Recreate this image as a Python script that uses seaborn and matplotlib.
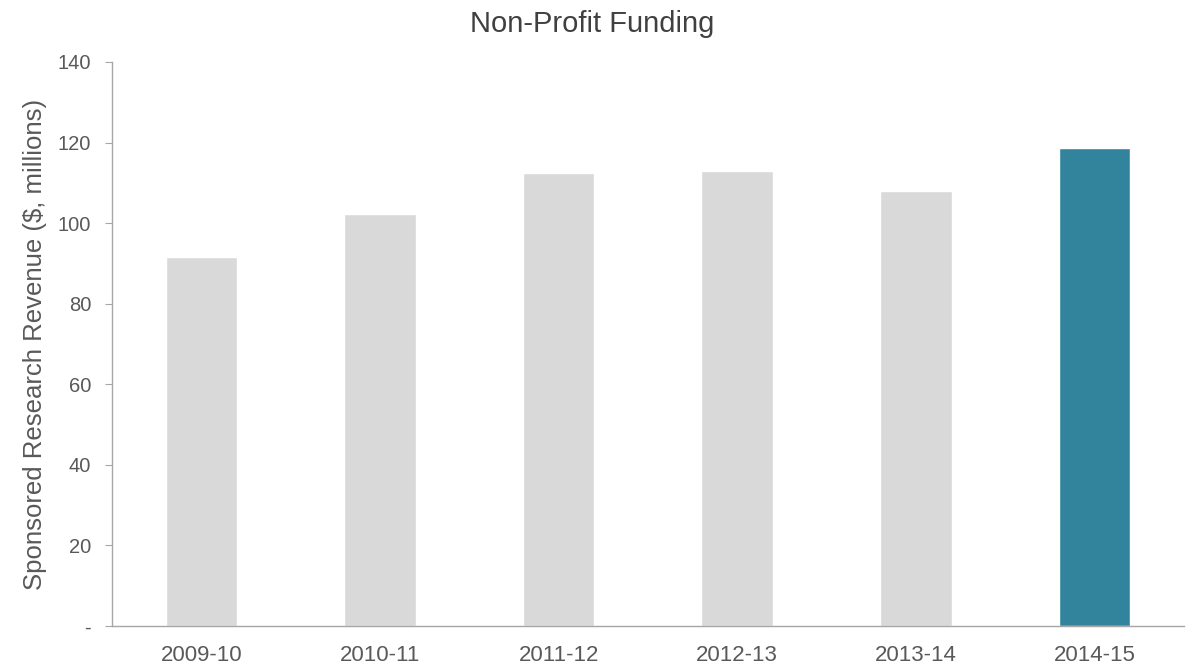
import pandas as pd
import matplotlib.pyplot as plt
import seaborn as sns

# Values
years = ['2009-10', '2010-11', '2011-12', '2012-13', '2013-14', '2014-15']
revenue = [91.6, 102.2, 112.4, 112.9, 107.9, 118.6]
bar_colors = ['#d9d9d9'] * 5 + ['#31849b']
y_ticks = [0, 20, 40, 60, 80, 100, 120, 140]
y_tick_labels = ['-', '20', '40', '60', '80', '100', '120', '140']

df = pd.DataFrame({'Year': years, 'Revenue': revenue})

sns.set_style('white')
plt.rcParams['font.family'] = ['Liberation Sans', 'DejaVu Sans']
text_color = '#595959'

fig = plt.figure(figsize=(11.91, 6.66), dpi=100)
ax = fig.add_axes([0.094, 0.060, 0.900, 0.847])

sns.barplot(x='Year', y='Revenue', hue='Year', data=df, palette=bar_colors,
            width=0.4, legend=False, ax=ax, saturation=1)

ax.set_xlim(-0.5, 5.5)
ax.set_ylim(0, 140)
ax.set_yticks(y_ticks)
ax.set_yticklabels(y_tick_labels)

# Title is centred on the figure, not the axes
fig.text(0.497, 1 - 24 / 666, 'Non-Profit Funding', ha='center', va='center',
         fontsize=21, color='#404040')
ax.set_xlabel('')
ax.set_ylabel('Sponsored Research Revenue ($, millions)', fontsize=18.5,
              color=text_color, labelpad=8)

for side in ['top', 'right']:
    ax.spines[side].set_visible(False)
for side in ['left', 'bottom']:
    ax.spines[side].set_color('#a6a6a6')
    ax.spines[side].set_linewidth(1)

ax.tick_params(axis='y', which='both', left=True, length=5, color='#a6a6a6',
               labelsize=14.5, labelcolor=text_color, pad=10)
ax.tick_params(axis='x', bottom=False, labelsize=16, labelcolor=text_color, pad=10)

plt.savefig('out.png', dpi=100)
